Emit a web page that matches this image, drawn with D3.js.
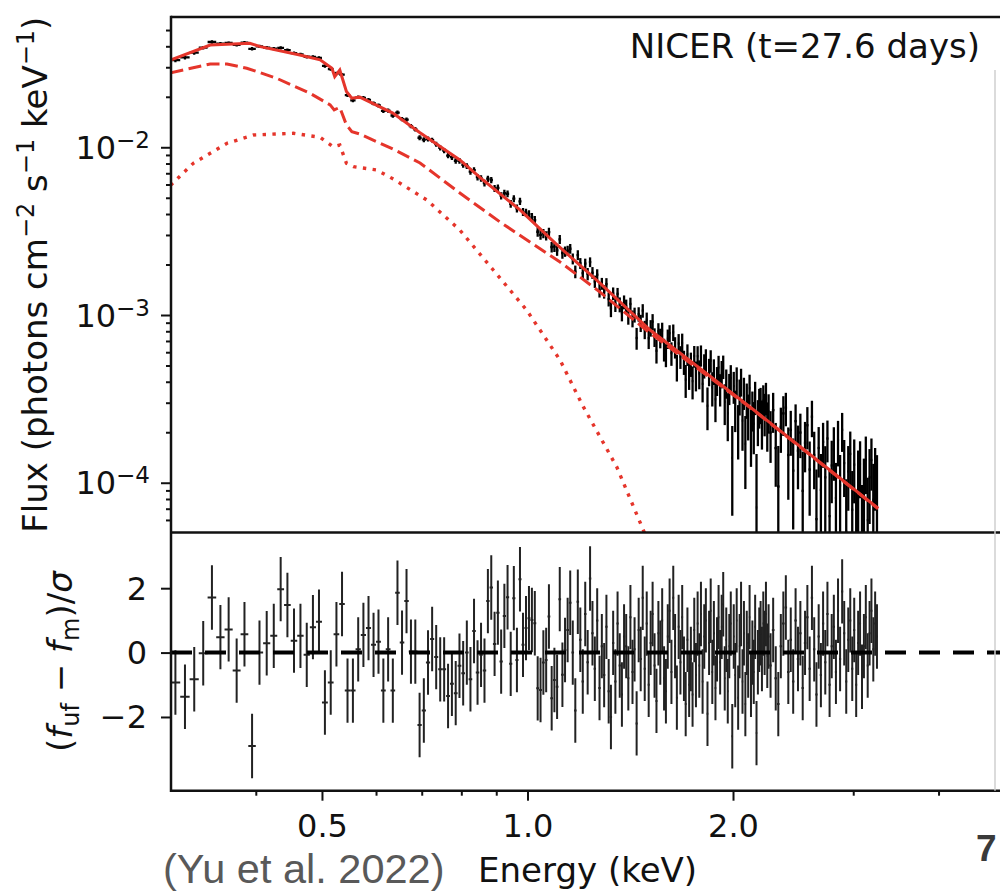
<!DOCTYPE html>
<html>
<head>
<meta charset="utf-8">
<script src="https://cdn.jsdelivr.net/npm/d3@7"></script>
<style>
  body { margin: 0; background: #fff; }
  svg { display: block; font-family: "DejaVu Sans", sans-serif; }
</style>
</head>
<body>
<div id="chart"></div>
<script>
// ------ Data ------ //

// Bin centres (keV)
const energy = [
  0.305,0.315,0.325,0.335,0.345,0.355,0.365,0.375,0.385,0.395,
  0.405,0.415,0.425,0.435,0.445,0.455,0.465,0.475,0.485,0.495,
  0.505,0.515,0.525,0.535,0.545,0.555,0.565,0.575,0.585,0.595,
  0.605,0.615,0.625,0.635,0.645,0.655,0.665,0.675,0.685,0.695,
  0.705,0.715,0.725,0.735,0.745,0.755,0.765,0.775,0.785,0.795,
  0.805,0.815,0.825,0.835,0.845,0.855,0.865,0.875,0.885,0.895,
  0.905,0.915,0.925,0.935,0.945,0.955,0.965,0.975,0.985,0.995,
  1.005,1.015,1.025,1.035,1.045,1.055,1.065,1.075,1.085,1.095,
  1.105,1.115,1.125,1.135,1.145,1.155,1.165,1.175,1.185,1.195,
  1.205,1.215,1.225,1.235,1.245,1.255,1.265,1.275,1.285,1.295,
  1.305,1.315,1.325,1.335,1.345,1.355,1.365,1.375,1.385,1.395,
  1.405,1.415,1.425,1.435,1.445,1.455,1.465,1.475,1.485,1.495,
  1.505,1.515,1.525,1.535,1.545,1.555,1.565,1.575,1.585,1.595,
  1.605,1.615,1.625,1.635,1.645,1.655,1.665,1.675,1.685,1.695,
  1.705,1.715,1.725,1.735,1.745,1.755,1.765,1.775,1.785,1.795,
  1.805,1.815,1.825,1.835,1.845,1.855,1.865,1.875,1.885,1.895,
  1.905,1.915,1.925,1.935,1.945,1.955,1.965,1.975,1.985,1.995,
  2.005,2.015,2.025,2.035,2.045,2.055,2.065,2.075,2.085,2.095,
  2.105,2.115,2.125,2.135,2.145,2.155,2.165,2.175,2.185,2.195,
  2.205,2.215,2.225,2.235,2.245,2.255,
  2.27,2.29,2.31,2.33,2.35,2.37,2.39,2.41,2.43,2.45,
  2.47,2.49,2.51,2.53,2.55,2.57,2.59,2.61,2.63,2.65,
  2.67,2.69,2.71,2.73,2.75,2.77,2.79,2.81,2.83,2.85,
  2.87,2.89,2.91,2.93,2.95,2.97,2.99,3.01,3.03,3.05,
  3.07,3.09,3.11,3.13,3.15,3.17,3.19,3.21,3.23,3.25
];

// Residuals (f_uf - f_m)/sigma, one per bin
const resid = [
  -0.93,-1.37,-0.83,-0.02,1.71,0.48,0.72,-0.56,0.57,-2.9,
  0,0.29,0.52,1.97,1.48,0.37,0.52,-0.07,0.79,0.96,
  -1.55,-0.93,0.57,1.51,-1.18,-1.18,0.1,0.55,0.76,0.24,
  0.34,-1.18,0.1,-1.18,1.86,0.31,1.6,0.03,0.03,-2.25,
  -1.8,-0.31,0.42,-0.14,-0.52,-0.52,-1.35,-0.97,-1.26,-0.41,
  -0.64,0,-0.83,0.67,-0.62,-0.07,-0.56,1.6,2.02,0.27,
  1.24,-0.28,1.14,1.72,-0.35,1.69,-0.23,2.28,0.24,0.76,
  1.07,1.01,0.91,-1.11,-1.16,-0.31,-0.23,1.12,-1.42,-0.85,
  -1.06,1.66,-0.69,0.08,0.7,1.55,0,-1.8,1.58,0.4,
  -0.9,1.2,-0.3,2.3,0.6,-0.5,1.0,-1.1,0.2,-0.7,
  0.8,-1.2,-2.0,0.3,-0.9,0.9,-0.4,-1.3,0.5,0.2,
  -0.8,1.1,-0.6,0.1,-2.2,0.7,-0.2,1.7,-0.5,0.9,
  -1.0,0.3,1.2,-0.4,-1.5,0.6,0.0,1.0,-0.8,-1.2,
  0.5,1.3,-0.6,1.7,0.2,-1.4,0.8,-0.3,1.1,-0.5,
  -1.6,0.4,-1.0,-0.2,-1.3,0.7,-0.7,0.9,-0.4,1.2,
  -0.9,0.5,1.0,-1.9,0.3,1.3,-0.6,0.6,-1.1,0.1,
  1.1,-0.3,0.8,1.5,-0.8,0.4,-1.2,0.2,0.9,-2.6,
  0.5,-0.7,1.0,-1.4,0.2,1.2,-0.9,0.6,-1.6,0.3,
  -0.4,1.1,-1.0,0.0,-0.6,0.8,-2.5,-0.3,0.4,0.6,
  -0.2,0.9,0.3,1.2,-0.1,0.5,
  -0.4,0.7,-0.8,-1.6,0.2,0.9,1.4,-0.6,0.4,-0.9,
  1.0,-0.2,0.6,-1.1,0.3,1.1,-0.5,1.7,0.1,-1.3,
  0.5,-0.7,0.9,-0.3,1.2,-1.0,0.2,0.8,-0.6,1.3,
  -0.2,1.9,0.6,-0.9,0.4,1.0,-0.5,0.7,-1.0,0.3,
  0.9,-0.75,0.2,1.1,-0.4,0.6,1.3,0.1,0.9,0.5
];

// Fractional 1-sigma flux error, one per bin
const relErr = [
  .028,.027,.026,.025,.024,.024,.023,.023,.023,.022,
  .022,.022,.022,.022,.022,.022,.022,.022,.023,.023,
  .023,.024,.024,.024,.025,.025,.025,.026,.026,.026,
  .027,.027,.028,.028,.029,.029,.030,.030,.031,.031,
  .032,.033,.033,.034,.035,.035,.036,.037,.038,.039,
  .040,.040,.041,.042,.043,.044,.045,.046,.047,.048,
  .048,.049,.050,.051,.052,.053,.054,.055,.056,.057,
  .058,.059,.060,.061,.062,.063,.064,.065,.066,.067,
  .068,.069,.070,.071,.072,.073,.074,.075,.076,.077,
  .080,.076,.082,.079,.085,.081,.084,.088,.083,.087,
  .090,.086,.093,.089,.095,.091,.098,.094,.100,.097,
  .104,.100,.108,.103,.112,.106,.115,.110,.118,.114,
  .122,.117,.126,.121,.130,.124,.134,.128,.138,.132,
  .142,.136,.146,.140,.150,.144,.155,.148,.160,.152,
  .164,.156,.168,.160,.172,.165,.177,.170,.182,.175,
  .187,.180,.192,.185,.197,.190,.203,.195,.208,.200,
  .213,.205,.218,.210,.224,.215,.230,.220,.236,.226,
  .242,.232,.248,.238,.254,.244,.260,.250,.266,.256,
  .272,.262,.278,.268,.285,.274,.292,.280,.298,.286,
  .305,.292,.310,.298,.316,.304,
  .30,.33,.31,.34,.32,.35,.33,.36,.34,.37,
  .35,.38,.36,.40,.37,.41,.38,.42,.39,.43,
  .40,.44,.41,.46,.42,.47,.44,.49,.45,.50,
  .47,.52,.48,.54,.50,.56,.52,.58,.54,.60,
  .56,.62,.58,.64,.60,.66,.62,.68,.64,.70
];

// Total model (solid red)
const totalE = [0.300,0.343,0.392,0.406,0.464,0.497,0.517,0.522,0.531,0.543,0.553,0.568,0.635,0.696,0.796,0.861,0.975,1.097,1.277,1.512,2.118,3.262];
const totalF = [0.0331,0.0407,0.0417,0.0398,0.0355,0.0332,0.0296,0.0264,0.0289,0.0215,0.0196,0.0199,0.0160,0.0122,0.0084,0.00638,0.00423,0.00269,0.00155,0.000814,0.000283,7.04e-5];

// Power-law component (dashed red)
const dashE = [0.300,0.343,0.363,0.388,0.429,0.480,0.514,0.521,0.531,0.543,0.553,0.568,0.635,0.696,0.796,0.911,1.116,1.277,1.512,2.118,3.262];
const dashF = [0.0278,0.0314,0.0314,0.0296,0.0258,0.0210,0.0179,0.0167,0.0173,0.0136,0.0124,0.0120,0.00977,0.00806,0.00534,0.00359,0.00207,0.00137,0.00078,0.000281,7.0e-5];

// Thermal component (dotted red)
const dotE = [0.300,0.324,0.363,0.397,0.454,0.497,0.519,0.531,0.543,0.556,0.601,0.636,0.712,0.796,0.891,0.997,1.116,1.207,1.351,1.478,1.563];
const dotF = [0.00593,0.00803,0.01057,0.01184,0.01212,0.01147,0.01008,0.01032,0.00803,0.00766,0.00732,0.00647,0.00485,0.00321,0.001855,0.001071,0.000539,0.000284,0.0001245,5.22e-5,3.0e-5];

// Ticks
const xMajor = [0.5, 1, 2];
const xTickLabels = ["0.5", "1.0", "2.0"];
const xMinor = [0.4, 0.6, 0.7, 0.8, 0.9, 3, 4];
const yMajor = [1e-4, 1e-3, 1e-2];
const yTickExp = ["\u22124", "\u22123", "\u22122"];
const yMinor = [6e-5,7e-5,8e-5,9e-5,2e-4,3e-4,4e-4,5e-4,6e-4,7e-4,8e-4,9e-4,
                2e-3,3e-3,4e-3,5e-3,6e-3,7e-3,8e-3,9e-3,2e-2,3e-2,4e-2,5e-2];
const resTicks = [-2, 0, 2];
const resTickLabels = ["\u22122", "0", "2"];

// ------ Drawing area ------ //
const width = 1000;
const height = 892;
const plotLeft = 171, plotRight = 1000;
const topY = 17, midY = 532.5, bottomY = 790.7;
const ink = "#111";
const red = "#e5352b";
const dejavu = "'DejaVu Sans', sans-serif";
const arial = "'Liberation Sans', Arial, sans-serif";

const svg = d3.select("#chart")
  .append("svg")
    .attr("width", width)
    .attr("height", height);

// Scales
const x = d3.scaleLog().domain([0.3, 5]).range([170.5, 1004.7]);
const yTop = d3.scaleLog().domain([5.05e-5, 0.0598]).range([midY, topY]);
const yRes = d3.scaleLinear().domain([-4.29, 3.73]).range([bottomY, midY]);

// Clip regions
const defs = svg.append("defs");
defs.append("clipPath").attr("id", "clipTop")
  .append("rect").attr("x", plotLeft).attr("y", topY).attr("width", plotRight - plotLeft).attr("height", midY - topY);
defs.append("clipPath").attr("id", "clipRes")
  .append("rect").attr("x", plotLeft).attr("y", midY).attr("width", plotRight - plotLeft).attr("height", bottomY - midY);

// Data points: flux = model + resid * sigma
const logModel = d3.scaleLog().domain(totalE).range(totalF.map(Math.log10));
const points = energy.map((e, i) => {
  const m = Math.pow(10, logModel(e));
  const sig = m * relErr[i];
  const prev = energy[Math.max(i - 1, 0)];
  const next = energy[Math.min(i + 1, energy.length - 1)];
  const half = i === 0 ? (next - e) / 2 : i === energy.length - 1 ? (e - prev) / 2 : (next - prev) / 4;
  return { e, f: m + resid[i] * sig, sig, r: resid[i], half };
});

// ------ Upper panel ------ //
const upper = svg.append("g").attr("clip-path", "url(#clipTop)");

upper.append("g")
  .selectAll("line")
  .data(points)
  .join("line")
    .attr("x1", d => x(d.e))
    .attr("x2", d => x(d.e))
    .attr("y1", d => yTop(d.f + d.sig))
    .attr("y2", d => yTop(Math.max(d.f - d.sig, 1e-7)))
    .attr("stroke", "#000")
    .attr("stroke-width", 2.3);

upper.append("g")
  .selectAll("line")
  .data(points)
  .join("line")
    .attr("x1", d => x(d.e - d.half))
    .attr("x2", d => x(d.e + d.half))
    .attr("y1", d => yTop(d.f))
    .attr("y2", d => yTop(d.f))
    .attr("stroke", "#000")
    .attr("stroke-width", 2.3);

const modelLine = d3.line()
  .x(d => x(d[0]))
  .y(d => yTop(d[1]));

upper.append("path")
  .attr("d", modelLine(dotE.map((e, i) => [e, dotF[i]])))
  .attr("fill", "none")
  .attr("stroke", red)
  .attr("stroke-width", 3.4)
  .attr("stroke-dasharray", "3.4 6.4");

upper.append("path")
  .attr("d", modelLine(dashE.map((e, i) => [e, dashF[i]])))
  .attr("fill", "none")
  .attr("stroke", red)
  .attr("stroke-width", 3)
  .attr("stroke-dasharray", "13 5.5");

upper.append("path")
  .attr("d", modelLine(totalE.map((e, i) => [e, totalF[i]])))
  .attr("fill", "none")
  .attr("stroke", red)
  .attr("stroke-width", 3);

// ------ Residual panel ------ //
const lower = svg.append("g").attr("clip-path", "url(#clipRes)");

lower.append("g")
  .selectAll("line")
  .data(points)
  .join("line")
    .attr("x1", d => x(d.e))
    .attr("x2", d => x(d.e))
    .attr("y1", d => yRes(d.r + 1))
    .attr("y2", d => yRes(d.r - 1))
    .attr("stroke", "#222")
    .attr("stroke-width", 2);

lower.append("g")
  .selectAll("line")
  .data(points)
  .join("line")
    .attr("x1", d => x(d.e - d.half))
    .attr("x2", d => x(d.e + d.half))
    .attr("y1", d => yRes(d.r))
    .attr("y2", d => yRes(d.r))
    .attr("stroke", "#222")
    .attr("stroke-width", 2);

lower.append("line")
  .attr("x1", plotLeft)
  .attr("x2", plotRight)
  .attr("y1", yRes(0))
  .attr("y2", yRes(0))
  .attr("stroke", "#000")
  .attr("stroke-width", 4)
  .attr("stroke-dasharray", "21 13");

// ------ Axes ------ //
const styleAxis = g => {
  g.select(".domain").remove();
  g.selectAll(".tick line").attr("stroke", ink).attr("stroke-width", 2);
  g.selectAll(".tick text")
    .style("font-family", dejavu)
    .attr("font-size", 32)
    .attr("fill", ink);
};

svg.append("g")
  .attr("transform", `translate(${plotLeft},0)`)
  .call(d3.axisLeft(yTop).tickValues(yMinor).tickSize(5).tickFormat(""))
  .call(styleAxis);

const gUp = svg.append("g")
  .attr("transform", `translate(${plotLeft},0)`)
  .call(d3.axisLeft(yTop).tickValues(yMajor).tickSize(10).tickFormat(""))
  .call(styleAxis);
gUp.selectAll(".tick text")
  .attr("x", -21)
  .attr("dy", null)
  .attr("y", 11)
  .each(function(d, i) {
    const t = d3.select(this);
    t.append("tspan").text("10");
    t.append("tspan").attr("dy", -11).attr("font-size", 23).text(yTickExp[i]);
  });

const gRes = svg.append("g")
  .attr("transform", `translate(${plotLeft},0)`)
  .call(d3.axisLeft(yRes).tickValues(resTicks).tickSize(10).tickFormat((d, i) => resTickLabels[i]))
  .call(styleAxis);
gRes.selectAll(".tick text").attr("x", -24).attr("dy", null).attr("y", 11);

const gX = svg.append("g")
  .attr("transform", `translate(0,${bottomY})`)
  .call(d3.axisBottom(x).tickValues(xMajor).tickSize(10).tickFormat((d, i) => xTickLabels[i]))
  .call(styleAxis);
gX.selectAll(".tick text").attr("dy", null).attr("y", 46);

svg.append("g")
  .attr("transform", `translate(0,${bottomY})`)
  .call(d3.axisBottom(x).tickValues(xMinor).tickSize(5).tickFormat(""))
  .call(styleAxis);

// Frame
const spines = svg.append("g").attr("stroke", ink).attr("stroke-width", 2.5);
spines.append("line").attr("x1", plotLeft).attr("x2", plotLeft).attr("y1", topY - 1.25).attr("y2", bottomY + 1.25);
[topY, midY, bottomY].forEach(yy => {
  spines.append("line").attr("x1", plotLeft).attr("x2", plotRight).attr("y1", yy).attr("y2", yy);
});
svg.append("line")
  .attr("x1", 995).attr("x2", 995).attr("y1", 70).attr("y2", bottomY)
  .attr("stroke", "#cfcfcf").attr("stroke-width", 1.5);

// ------ Labels ------ //
const yLab = svg.append("text")
  .attr("transform", "rotate(-90)")
  .attr("x", -(topY + midY) / 2)
  .attr("y", 47)
  .attr("text-anchor", "middle")
  .attr("font-size", 34)
  .attr("fill", ink);
yLab.append("tspan").text("Flux (photons cm");
yLab.append("tspan").attr("dy", -13).attr("font-size", 24).text("\u22122");
yLab.append("tspan").attr("dy", 13).text(" s");
yLab.append("tspan").attr("dy", -13).attr("font-size", 24).text("\u22121");
yLab.append("tspan").attr("dy", 13).text(" keV");
yLab.append("tspan").attr("dy", -13).attr("font-size", 24).text("\u22121");
yLab.append("tspan").attr("dy", 13).text(")");

const rLab = svg.append("text")
  .attr("transform", "rotate(-90)")
  .attr("x", -(midY + bottomY) / 2)
  .attr("y", 72)
  .attr("text-anchor", "middle")
  .attr("font-size", 34)
  .attr("fill", ink);
rLab.append("tspan").text("(");
rLab.append("tspan").attr("font-style", "italic").text("f");
rLab.append("tspan").attr("dy", 7).attr("font-size", 24).text("uf");
rLab.append("tspan").attr("dy", -7).text(" \u2212 ");
rLab.append("tspan").attr("font-style", "italic").text("f");
rLab.append("tspan").attr("dy", 7).attr("font-size", 24).text("m");
rLab.append("tspan").attr("dy", -7).text(")/");
rLab.append("tspan").attr("font-style", "italic").text("\u03c3");

svg.append("text")
  .text("Energy (keV)")
  .attr("x", (170.5 + 1004.7) / 2)
  .attr("y", 882)
  .attr("text-anchor", "middle")
  .attr("font-size", 34)
  .attr("fill", ink);

svg.append("text")
  .text("NICER (t=27.6 days)")
  .attr("x", 980)
  .attr("y", 58)
  .attr("text-anchor", "end")
  .attr("font-size", 34)
  .attr("fill", ink);

svg.append("text")
  .text("(Yu et al. 2022)")
  .attr("x", 163)
  .attr("y", 883)
  .style("font-family", arial)
  .attr("font-size", 41.5)
  .attr("fill", "#595959");

svg.append("text")
  .text("7")
  .attr("x", 976)
  .attr("y", 861)
  .style("font-family", arial)
  .attr("font-weight", "bold")
  .attr("font-size", 37)
  .attr("fill", "#3a3a3a");
</script>
</body>
</html>
